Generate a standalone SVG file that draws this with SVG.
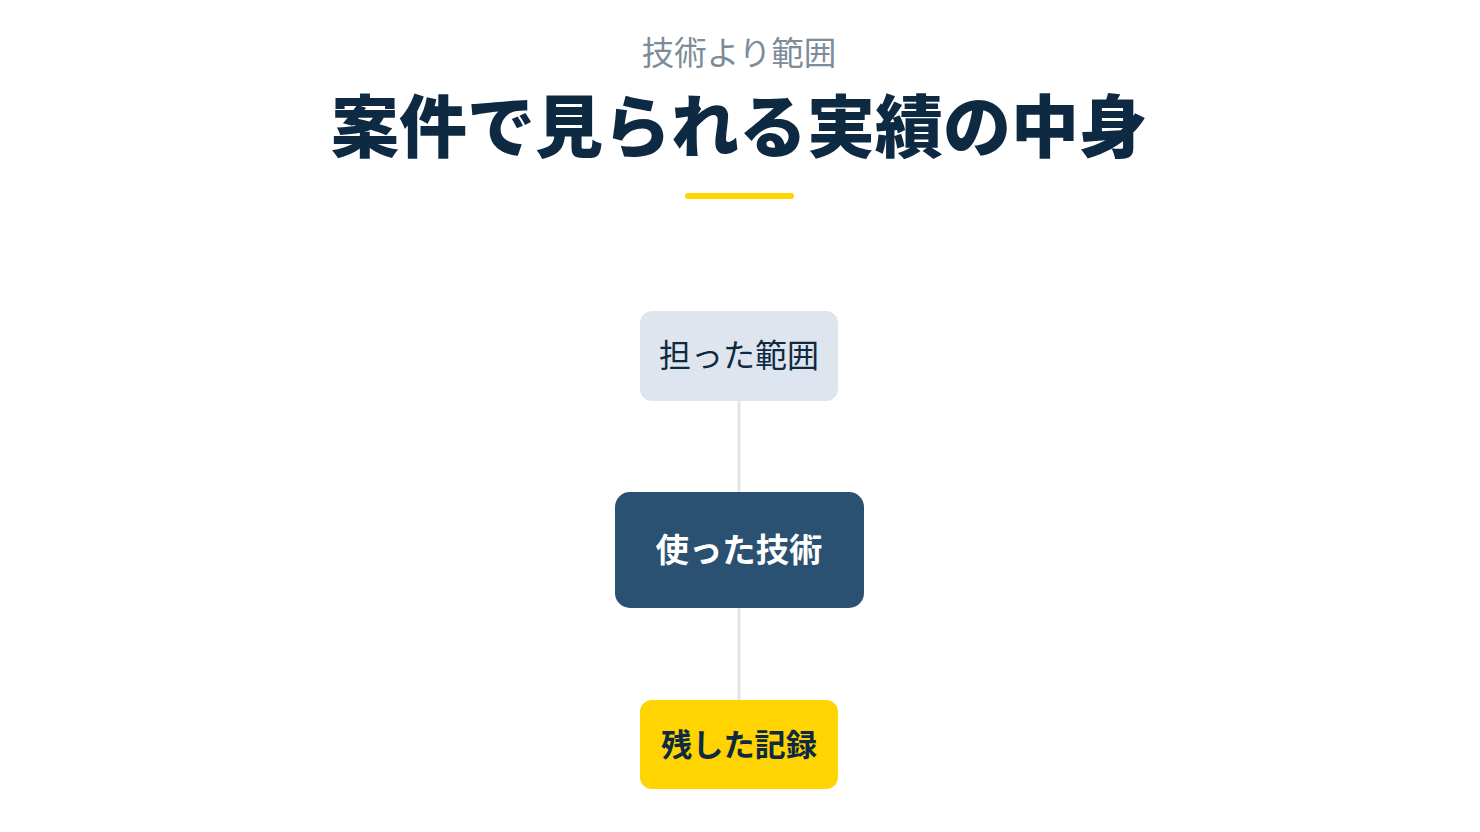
<svg xmlns="http://www.w3.org/2000/svg" width="1480" height="832" viewBox="0 0 1480 832">
<style>
.t{font-family:"Noto Sans CJK JP","Noto Sans CJK SC",sans-serif;text-anchor:middle}
.conn{stroke:#E1E4E9;stroke-width:3;fill:none}
</style>
<rect width="1480" height="832" fill="#FFFFFF"/>
<text class="t" x="739" y="65" font-size="32.5" fill="#7D8C99">技術より範囲</text>
<text class="t" x="739" y="152" font-size="68" font-weight="900" fill="#0E2A42">案件で見られる実績の中身</text>
<rect x="685" y="193" width="109" height="6" rx="3" fill="#FFD400"/>
<g id="connectors">
<line class="conn" x1="739" y1="401" x2="739" y2="492"/>
<line class="conn" x1="739" y1="608" x2="739" y2="700"/>
</g>
<g id="node-scope">
<rect x="640" y="311" width="198" height="90" rx="12" fill="#DFE5EE"/>
<text class="t" x="739" y="367" font-size="32" fill="#0E2A42">担った範囲</text>
</g>
<g id="node-tech">
<rect x="615" y="492" width="249" height="116" rx="15" fill="#2A5171"/>
<text class="t" x="739" y="562" font-size="33.4" font-weight="700" fill="#FFFFFF">使った技術</text>
</g>
<g id="node-record">
<rect x="640" y="700" width="198" height="89" rx="12" fill="#FFD400"/>
<text class="t" x="739" y="756" font-size="31.2" font-weight="700" fill="#0E2A42">残した記録</text>
</g>
</svg>
